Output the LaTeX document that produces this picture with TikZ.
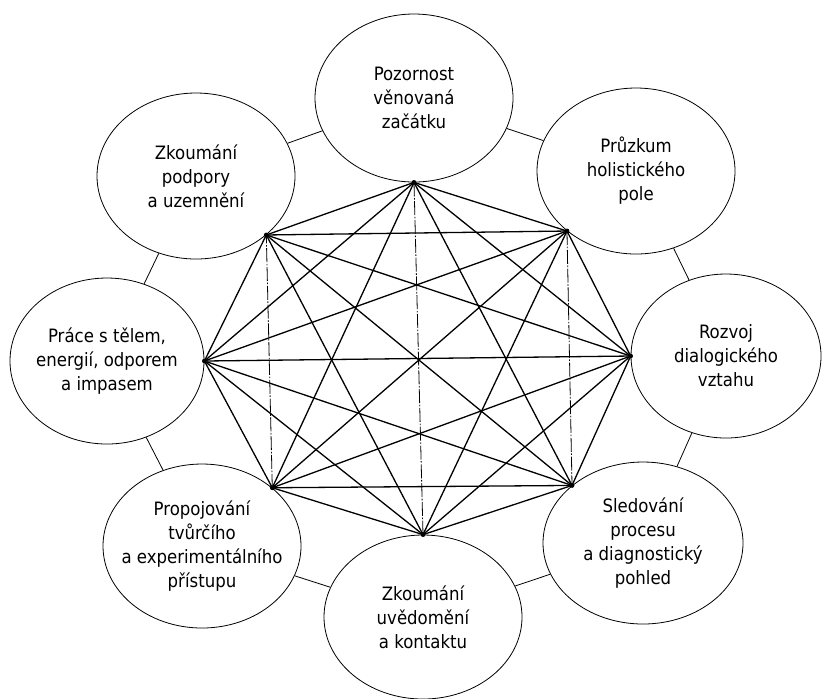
\documentclass[tikz,border=0pt]{standalone}
\usepackage{fontspec}
\setmainfont{DejaVu Sans Condensed}
\usetikzlibrary{shapes.geometric}
\begin{document}
\begin{tikzpicture}[x=.5pt,y=-.5pt,line join=round,
	bubble/.style={ellipse,draw,thin,minimum width=99pt,minimum height=82pt,inner sep=0pt},
	txt/.style={align=center,font=\fontsize{9.2}{12}\selectfont},
	web/.style={line width=.65pt},
	vline/.style={thin,dash pattern=on 7pt off .8pt on .8pt off .8pt}]
	\useasboundingbox (0,0) rectangle (822,698);
	% the eight fields
	\node[bubble,minimum height=84pt,label={[txt]center:{Pozornost\\věnovaná\\začátku}}] (top) at (414,98) {};
	\node[bubble,minimum height=83pt,label={[txt]center:{Průzkum\\holistického\\pole}}] (tr) at (636,171) {};
	\node[bubble,minimum width=95pt,label={[txt]center:{Rozvoj\\dialogického\\vztahu}}] (r) at (726,356) {};
	\node[bubble,minimum width=100pt,minimum height=81pt,label={[txt]center:{Sledování\\procesu\\a diagnostický\\pohled}}] (br) at (643,543) {};
	\node[bubble,label={[txt]center:{Zkoumání\\uvědomění\\a kontaktu}}] (b) at (423,617) {};
	\node[bubble,label={[txt]center:{Propojování\\tvůrčího\\a experimentálního\\přístupu}}] (bl) at (202,546) {};
	\node[bubble,minimum width=97pt,minimum height=83pt,label={[txt]center:{Práce s tělem,\\energií, odporem\\a impasem}}] (l) at (107,361) {};
	\node[bubble,minimum height=83pt,label={[txt]center:{Zkoumání\\podpory\\a uzemnění}}] (tl) at (196,176) {};
	\foreach \a/\b in {top/tr,tr/r,r/br,br/b,b/bl,bl/l,l/tl,tl/top}
		\draw[thin] (\a)--(\b);
	%===========================================
	\coordinate (p1) at (top.south);
	\coordinate (p2) at (tr.221);
	\coordinate (p3) at (r.west);
	\coordinate (p4) at (br.north west);
	\coordinate (p5) at (b.north);
	\coordinate (p6) at (bl.north east);
	\coordinate (p7) at (l.east);
	\coordinate (p8) at (tl.south east);
	\foreach \i in {1,...,7}{
		\pgfmathtruncatemacro\k{\i+1}
		\foreach \j in {\k,...,8}{
			\pgfmathtruncatemacro\s{\i+\j}
			\ifnum\s=6 \draw[vline] (p\i)--(p\j);
			\else\ifnum\s=14 \draw[vline] (p\i)--(p\j);
			\else \draw[web] (p\i)--(p\j);
			\fi\fi}}
	\foreach \i in {1,...,8}
		\fill (p\i) circle (1.2pt);
\end{tikzpicture}
\end{document}
